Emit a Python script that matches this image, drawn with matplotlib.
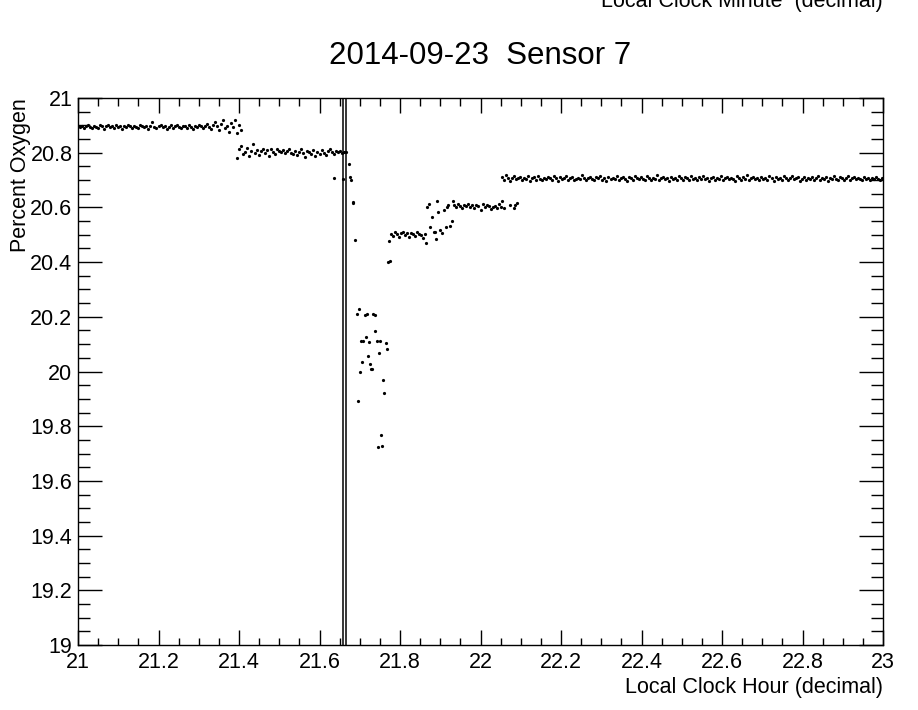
import numpy as np
import matplotlib
matplotlib.use("Agg")
import matplotlib.pyplot as plt
from matplotlib.ticker import MultipleLocator, FuncFormatter

plt.rcParams['font.family'] = ['Liberation Sans', 'DejaVu Sans']

# sampling interval of the sensor readings, hours (18 s)
step = 0.005

# 21:00 - 21:24, first plateau
band_a_start = 21.000
band_a = [20.897, 20.893, 20.899, 20.891, 20.896, 20.900, 20.894, 20.889, 20.898, 20.895,
          20.892, 20.901, 20.896, 20.888, 20.899, 20.903, 20.893, 20.897, 20.890, 20.902,
          20.895, 20.899, 20.886, 20.896, 20.893, 20.900, 20.897, 20.891, 20.898, 20.894,
          20.889, 20.902, 20.896, 20.893, 20.899, 20.885, 20.897, 20.912, 20.894, 20.890,
          20.896, 20.900, 20.893, 20.898, 20.887, 20.895, 20.901, 20.892, 20.897, 20.903,
          20.894, 20.889, 20.899, 20.896, 20.891, 20.900, 20.895, 20.886, 20.898, 20.893,
          20.902, 20.896, 20.891, 20.899, 20.905, 20.893, 20.887, 20.900, 20.911, 20.896,
          20.882, 20.904, 20.918, 20.890, 20.899, 20.876, 20.908, 20.895, 20.921, 20.872,
          20.900, 20.884]

# second plateau up to the marker lines
band_b_start = 21.395
band_b = [20.781, 20.812, 20.826, 20.795, 20.803, 20.818, 20.789, 20.808, 20.831, 20.799,
          20.811, 20.793, 20.806, 20.815, 20.798, 20.809, 20.787, 20.812, 20.803, 20.796,
          20.814, 20.807, 20.801, 20.810, 20.799, 20.805, 20.812, 20.800, 20.797, 20.808,
          20.791, 20.804, 20.813, 20.798, 20.784, 20.806, 20.801, 20.795, 20.809, 20.788,
          20.803, 20.797, 20.811, 20.800, 20.793, 20.806, 20.814, 20.802, 20.796, 20.808,
          20.801, 20.805, 20.799, 20.803, 20.804]

# the dip after the marker lines (irregular readings)
dip_t = [21.637, 21.658, 21.674, 21.676, 21.678, 21.683, 21.684, 21.689, 21.695, 21.692,
         21.698, 21.701, 21.703, 21.706, 21.708, 21.712, 21.715, 21.717, 21.720, 21.724,
         21.725, 21.729, 21.731, 21.734, 21.737, 21.739, 21.742, 21.745, 21.749, 21.750,
         21.753, 21.756, 21.759, 21.761, 21.764, 21.768, 21.769, 21.773, 21.774]
dip_y = [20.709, 20.703, 20.759, 20.710, 20.700, 20.615, 20.620, 20.480, 19.892, 20.210,
         20.227, 19.997, 20.113, 20.036, 20.113, 20.208, 20.127, 20.211, 20.058, 20.107,
         20.027, 20.009, 20.008, 20.209, 20.205, 20.148, 20.113, 19.723, 20.068, 20.113,
         19.767, 19.728, 19.970, 19.923, 20.104, 20.083, 20.400, 20.478, 20.405]

# recovery plateau near 20.5
band_c_start = 21.777
band_c = [20.502, 20.497, 20.509, 20.504, 20.493, 20.507, 20.511, 20.499, 20.505, 20.490,
          20.508, 20.502, 20.496, 20.510, 20.503, 20.498, 20.488, 20.501]

# step between 20.5 and 20.6
step_t = [21.865, 21.868, 21.871, 21.875, 21.880, 21.884, 21.886, 21.889, 21.891, 21.895,
          21.899, 21.904, 21.909, 21.914, 21.916, 21.920, 21.924, 21.928, 21.931]
step_y = [20.471, 20.603, 20.613, 20.528, 20.566, 20.510, 20.511, 20.486, 20.625, 20.582,
          20.517, 20.508, 20.590, 20.528, 20.603, 20.610, 20.532, 20.549, 20.625]

# plateau near 20.6
band_d_start = 21.935
band_d = [20.608, 20.601, 20.611, 20.604, 20.598, 20.609, 20.606, 20.613, 20.602, 20.607,
          20.599, 20.610, 20.605, 20.591, 20.612, 20.600, 20.608, 20.604, 20.594, 20.601,
          20.606, 20.597, 20.611, 20.603]
tail_t = [22.053, 22.058, 22.073, 22.082, 22.086, 22.090]
tail_y = [20.625, 20.598, 20.609, 20.597, 20.610, 20.615]

# final plateau near 20.7
band_e_start = 22.053
band_e = [20.712, 20.701, 20.718, 20.706, 20.698, 20.709, 20.715, 20.703, 20.707, 20.711,
          20.700, 20.708, 20.704, 20.713, 20.697, 20.706, 20.710, 20.702, 20.716, 20.705,
          20.699, 20.709, 20.703, 20.712, 20.707, 20.701, 20.714, 20.706, 20.698, 20.710,
          20.704, 20.708, 20.715, 20.702, 20.707, 20.711, 20.700, 20.705, 20.709, 20.703,
          20.717, 20.706, 20.699, 20.708, 20.712, 20.704, 20.701, 20.710, 20.706, 20.713,
          20.702, 20.708, 20.697, 20.711, 20.705, 20.709, 20.703, 20.716, 20.700, 20.707,
          20.712, 20.704, 20.698, 20.710, 20.706, 20.701, 20.714, 20.708, 20.703, 20.711,
          20.705, 20.699, 20.713, 20.707, 20.702, 20.709, 20.704, 20.718, 20.700, 20.706,
          20.710, 20.703, 20.708, 20.696, 20.712, 20.705, 20.709, 20.701, 20.715, 20.706,
          20.702, 20.711, 20.707, 20.699, 20.713, 20.704, 20.708, 20.700, 20.710, 20.705,
          20.714, 20.703, 20.709, 20.697, 20.706, 20.712, 20.701, 20.708, 20.704, 20.716,
          20.699, 20.707, 20.711, 20.703, 20.709, 20.705, 20.698, 20.713, 20.706, 20.702,
          20.710, 20.704, 20.717, 20.700, 20.708, 20.712, 20.703, 20.706, 20.699, 20.711,
          20.705, 20.709, 20.701, 20.714, 20.707, 20.697, 20.710, 20.704, 20.708, 20.702,
          20.713, 20.706, 20.700, 20.709, 20.716, 20.703, 20.707, 20.711, 20.698, 20.705,
          20.710, 20.702, 20.708, 20.704, 20.712, 20.699, 20.706, 20.715, 20.701, 20.709,
          20.704, 20.711, 20.697, 20.707, 20.703, 20.713, 20.705, 20.700, 20.710, 20.706,
          20.702, 20.708, 20.714, 20.699, 20.706, 20.711, 20.703, 20.709, 20.705, 20.701,
          20.712, 20.704, 20.708, 20.700, 20.706, 20.703, 20.710, 20.705, 20.699, 20.707]

# marker lines
markers = [21.6583, 21.6667]

fig = plt.figure(figsize=(9.18, 7.10), dpi=100)
ax = fig.add_axes([78 / 918, 1 - 645 / 710, 805 / 918, 547 / 710])

dot = dict(ls='none', marker='o', ms=2.3, mew=0, color='black')
for start, vals in [(band_a_start, band_a), (band_b_start, band_b), (band_c_start, band_c),
                    (band_d_start, band_d), (band_e_start, band_e)]:
    t = start + step * np.arange(len(vals))
    ax.plot(t, vals, **dot)
ax.plot(dip_t, dip_y, **dot)
ax.plot(step_t, step_y, **dot)
ax.plot(tail_t, tail_y, **dot)

for m in markers:
    ax.axvline(m, color='black', lw=1.1)

ax.set_xlim(21, 23)
ax.set_ylim(19, 21)
ax.xaxis.set_major_locator(MultipleLocator(0.2))
ax.xaxis.set_minor_locator(MultipleLocator(0.05))
ax.yaxis.set_major_locator(MultipleLocator(0.2))
ax.yaxis.set_minor_locator(MultipleLocator(0.05))
fmt = FuncFormatter(lambda v, p: f'{v:g}')
ax.xaxis.set_major_formatter(fmt)
ax.yaxis.set_major_formatter(fmt)

ax.tick_params(which='both', direction='in', top=True, right=True, width=1,
               labelsize=15.5, color='black')
ax.tick_params(axis='x', which='major', length=10.8, pad=5)
ax.tick_params(axis='x', which='minor', length=5.4)
ax.tick_params(axis='y', which='major', length=17.3, pad=4)
ax.tick_params(axis='y', which='minor', length=8.6)
for s in ax.spines.values():
    s.set_linewidth(1.0)

fig.text(480.5 / 918, 1 - 64 / 710, '2014-09-23  Sensor 7', ha='center', va='baseline', fontsize=22.5)
fig.text(883 / 918, 1 - 693 / 710, 'Local Clock Hour (decimal)', ha='right', va='baseline', fontsize=15.5)
fig.text(883 / 918, 1 - 7 / 710, 'Local Clock Minute  (decimal)', ha='right', va='baseline', fontsize=15.5)
fig.text(21 / 918, 1 - 98 / 710, 'Percent Oxygen', ha='center', va='top', rotation=90, fontsize=15.5)

fig.savefig('out.png', dpi=100)
